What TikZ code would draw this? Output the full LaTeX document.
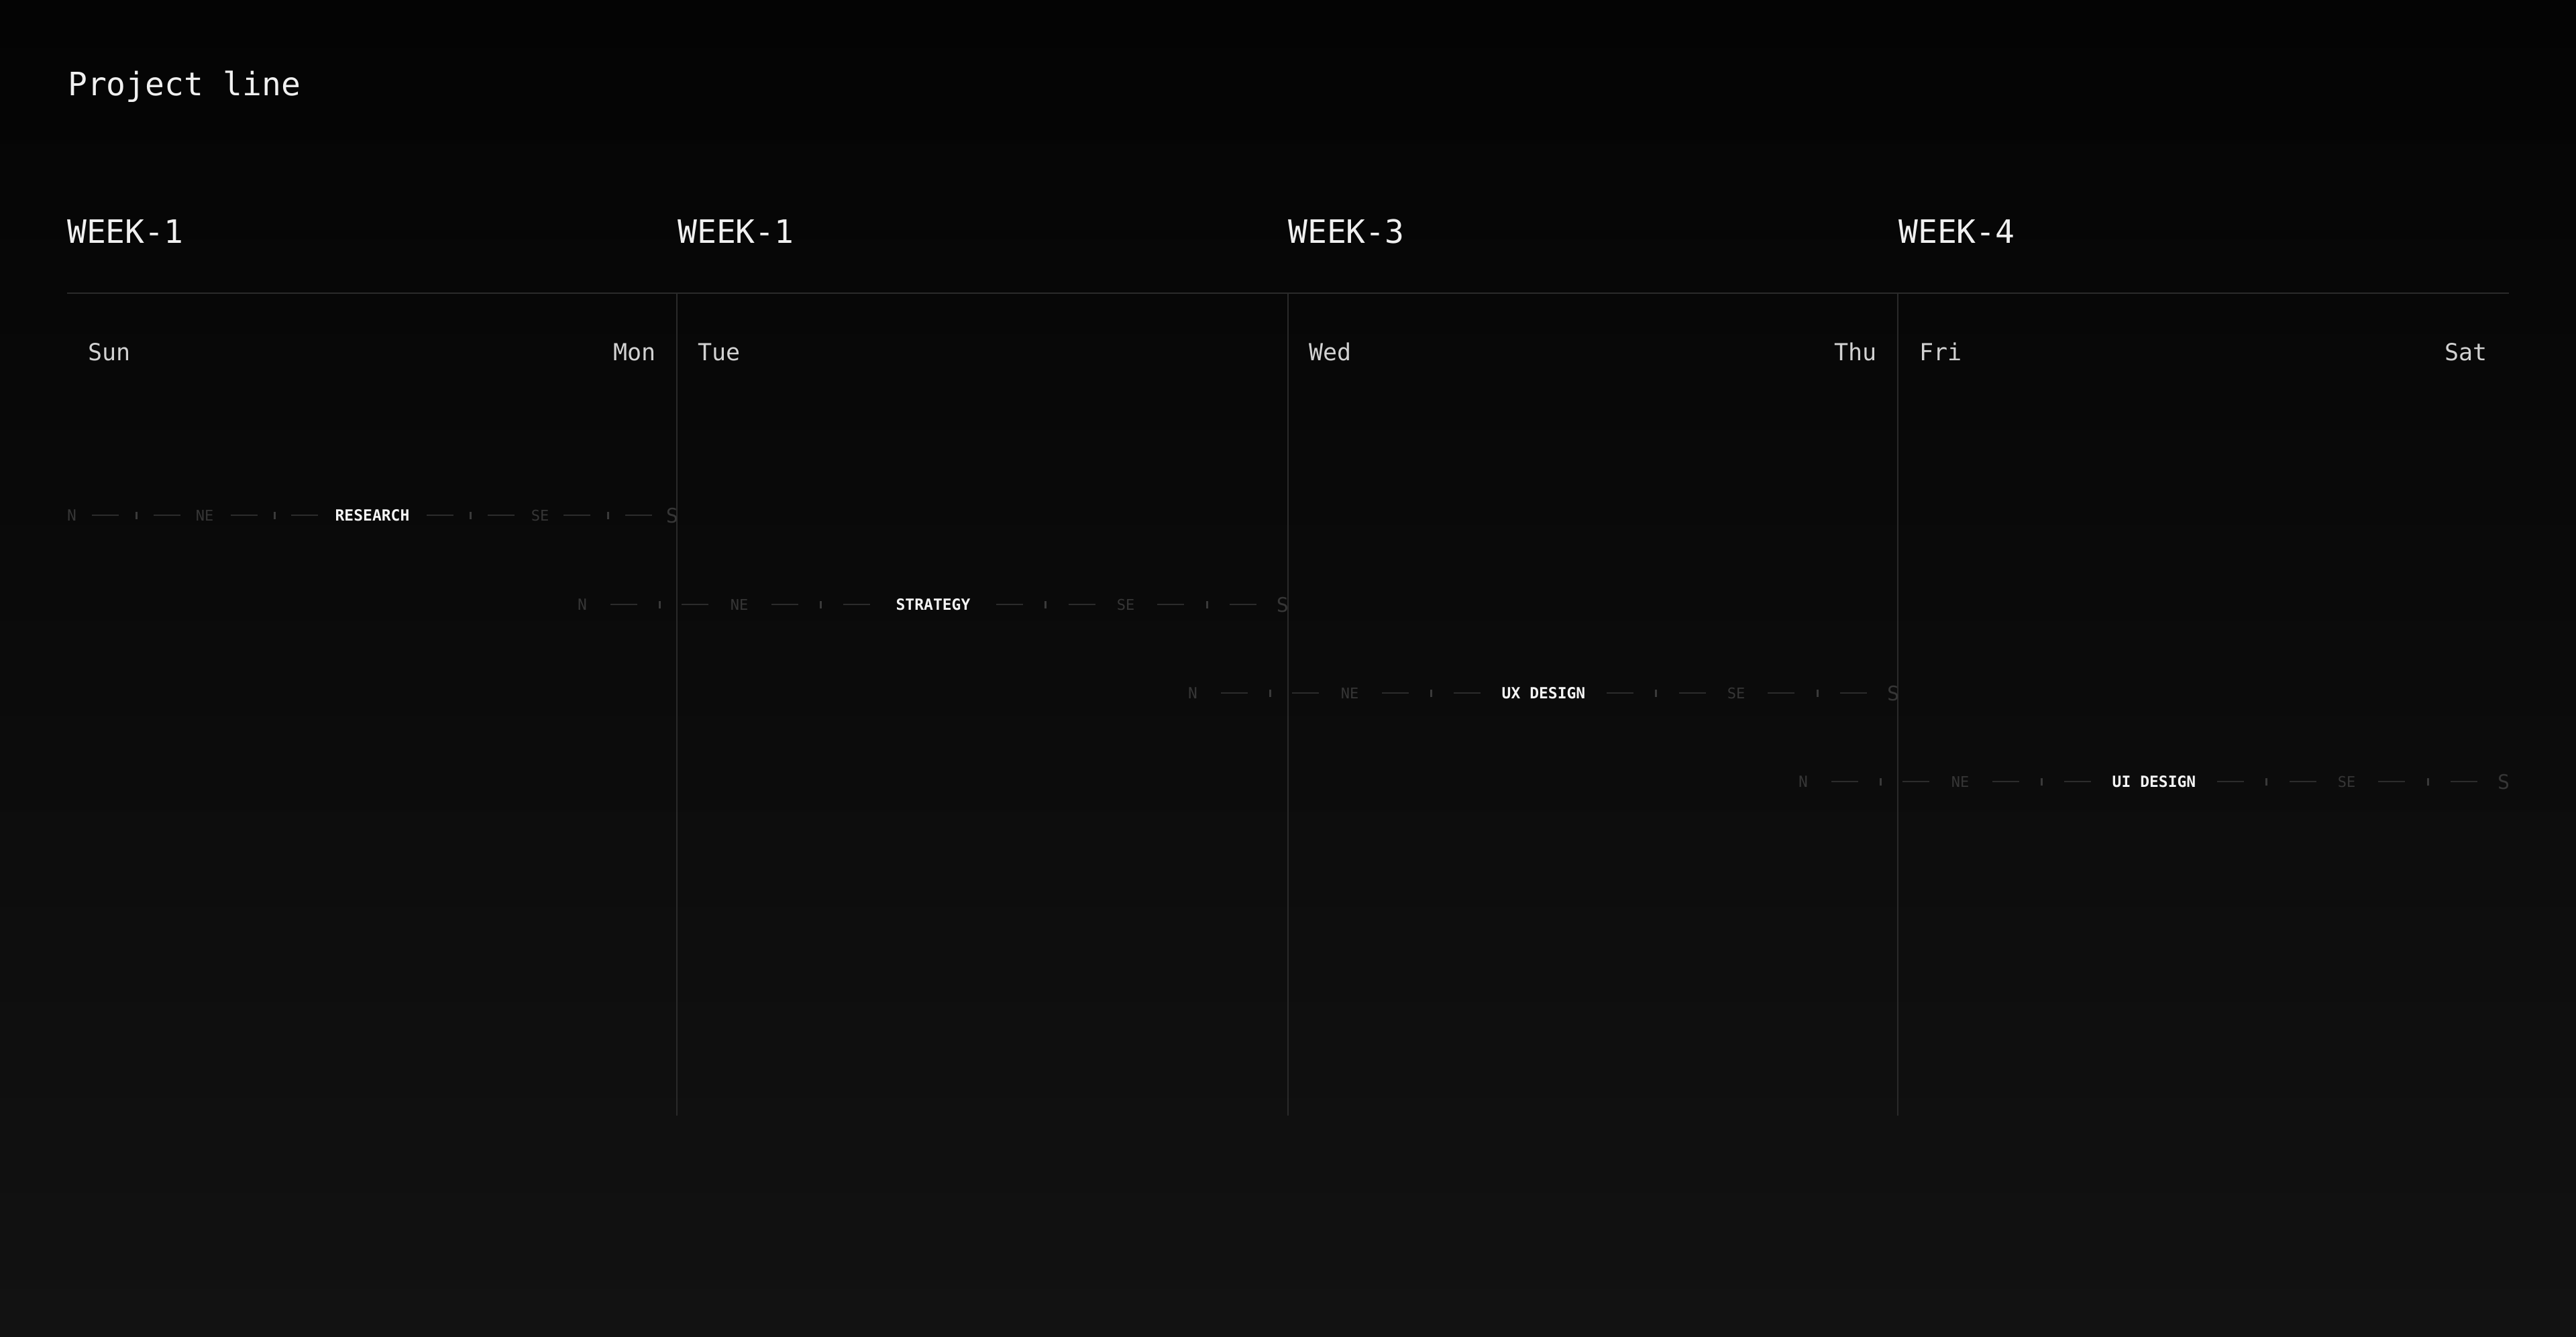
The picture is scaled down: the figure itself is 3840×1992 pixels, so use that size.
\documentclass[tikz,border=0pt]{standalone}
\usepackage{fontspec}
\setmainfont{DejaVu Sans Mono}
\setmonofont{DejaVu Sans Mono}
\definecolor{bgtop}{HTML}{040404}
\definecolor{bgbot}{HTML}{121212}
\definecolor{titlecol}{HTML}{F0F0F0}
\definecolor{daycol}{HTML}{D2D2D2}
\definecolor{gridcol}{HTML}{2A2A2A}
\definecolor{dimcol}{HTML}{363636}
\definecolor{dashcol}{HTML}{2C2C2C}
\definecolor{tickcol}{HTML}{3A3A3A}
\definecolor{labcol}{HTML}{F4F4F4}
\newcommand\projrow[5]{%
  \def\plabel{#4}%
  \foreach \poff/\pst/\ptxt [count=\pi] in #5 {
    \node[\pst] (#1-\pi) at (#2+\poff,#3) {\ptxt};
  }%
}
\def\tmplA{0/cmpn/N,50/dsh/{},96/tck/{},142/dsh/{},198/cmpe/NE,257/dsh/{},302/tck/{},347/dsh/{},448/lab/\plabel,549/dsh/{},594/tck/{},640/dsh/{},698/cmpe/SE,753/dsh/{},799/tck/{},845/dsh/{},895/cmps/S}
\def\tmplB{0/cmpn/N,62/dsh/{},115/tck/{},168/dsh/{},234/cmpe/NE,302/dsh/{},355/tck/{},409/dsh/{},523/lab/\plabel,637/dsh/{},690/tck/{},745/dsh/{},810/cmpe/SE,877/dsh/{},931/tck/{},985/dsh/{},1044/cmps/S}
\begin{document}
\begin{tikzpicture}[x=1pt,y=-1pt,
  titletext/.style={anchor=base west,inner sep=0pt,text=titlecol,font=\fontsize{48}{58}\selectfont},
  weektext/.style={anchor=base west,inner sep=0pt,text=titlecol,font=\fontsize{48}{58}\selectfont},
  daytext/.style={inner sep=0pt,text=daycol,font=\fontsize{35}{42}\selectfont},
  gridline/.style={draw=gridcol,line width=2pt},
  cmpn/.style={inner sep=0pt,text height=17pt,text depth=0pt,anchor=center,text=dimcol,font=\fontsize{23}{28}\selectfont},
  cmpe/.style={inner sep=0pt,text height=16pt,text depth=0pt,anchor=center,text=dimcol,font=\fontsize{22}{26}\selectfont},
  cmps/.style={inner sep=0pt,text height=22pt,text depth=0pt,anchor=center,text=dimcol,font=\fontsize{30}{36}\selectfont},
  lab/.style={inner sep=0pt,text height=17pt,text depth=0pt,anchor=center,text=labcol,font=\fontsize{23}{28}\selectfont\bfseries},
  dsh/.style={rectangle,fill=dashcol,minimum width=40pt,minimum height=2pt,inner sep=0pt},
  tck/.style={rectangle,fill=tickcol,minimum width=3pt,minimum height=11pt,inner sep=0pt}]
\useasboundingbox (0,0) rectangle (3840,1992);
\shade[top color=bgtop,bottom color=bgbot] (0,0) rectangle (3840,1992);
% title
\node[titletext] (title) at (101,142) {Project line};
% week headers
\node[weektext] (w1) at (100,362) {WEEK-1};
\node[weektext] (w2) at (1010,362) {WEEK-1};
\node[weektext] (w3) at (1920,362) {WEEK-3};
\node[weektext] (w4) at (2830,362) {WEEK-4};
% grid
\coordinate (hl) at (100,437);
\coordinate (hr) at (3740,437);
\draw[gridline] (hl) -- (hr);
\foreach \gx [count=\gi] in {1009,1920,2829} {
  \coordinate (vt\gi) at (\gx,437);
  \coordinate (vb\gi) at (\gx,1663);
  \draw[gridline] (vt\gi) -- (vb\gi);
}
% day labels
\node[daytext,anchor=base west] (sun) at (131,537) {Sun};
\node[daytext,anchor=base east] (mon) at (978,537) {Mon};
\node[daytext,anchor=base west] (tue) at (1040,537) {Tue};
\node[daytext,anchor=base west] (wed) at (1951,537) {Wed};
\node[daytext,anchor=base east] (thu) at (2798,537) {Thu};
\node[daytext,anchor=base west] (fri) at (2861,537) {Fri};
\node[daytext,anchor=base east] (sat) at (3708,537) {Sat};
% project rows
\projrow{ra}{107}{768}{RESEARCH}{\tmplA}
\projrow{rb}{868}{901}{STRATEGY}{\tmplB}
\projrow{rc}{1778}{1033}{UX DESIGN}{\tmplB}
\projrow{rd}{2688}{1165}{UI DESIGN}{\tmplB}
\end{tikzpicture}
\end{document}
